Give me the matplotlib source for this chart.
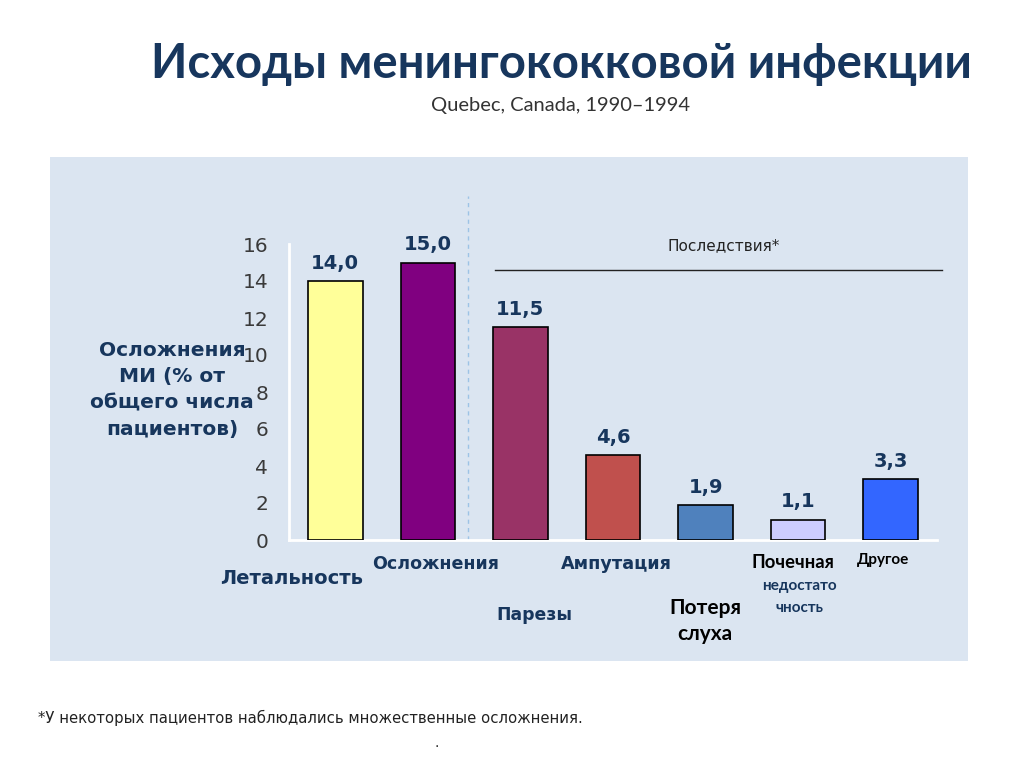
import matplotlib.pyplot as plt
from matplotlib.patches import Rectangle

categories = ['Летальность', 'Осложнения', 'Парезы', 'Ампутация', 'Потеря слуха',
              'Почечная недостаточность', 'Другое']
values = [14.0, 15.0, 11.5, 4.6, 1.9, 1.1, 3.3]
value_labels = ['14,0', '15,0', '11,5', '4,6', '1,9', '1,1', '3,3']
yticks = [0, 2, 4, 6, 8, 10, 12, 14, 16]

colors = ['#ffff99', '#800080', '#993366', '#c0504d', '#4f81bd', '#ccccff', '#3366ff']
navy = '#17365d'
panel = '#dbe5f1'

W, H = 1024, 767
fig = plt.figure(figsize=(W / 100, H / 100), dpi=100)
fig.patch.set_facecolor('white')


def px(x, y):
    return x / W, 1 - y / H


# light blue panel behind the chart
fig.patches.append(Rectangle(px(50, 661), 918 / W, 504 / H, transform=fig.transFigure,
                             facecolor=panel, edgecolor='none', zorder=-1))

ax = fig.add_axes([289 / W, 1 - 540 / H, 648 / W, 296 / H])
ax.set_facecolor('none')
x = list(range(len(values)))
ax.bar(x, values, width=0.59, color=colors, edgecolor='black', linewidth=1.2, zorder=3)
ax.set_xlim(-0.5, 6.5)
ax.set_ylim(0, 16)
ax.set_yticks(yticks)
ax.set_yticklabels([str(t) for t in yticks], fontsize=14.5, color='#3a3a3a')
ax.tick_params(axis='y', length=0, pad=15)
ax.set_xticks([])
for s in ['top', 'right']:
    ax.spines[s].set_visible(False)
for s in ['left', 'bottom']:
    ax.spines[s].set_color('white')
    ax.spines[s].set_linewidth(2)

for xi, v, lab in zip(x, values, value_labels):
    ax.text(xi, v + 0.45, lab, ha='center', va='bottom', fontsize=14,
            fontweight='bold', color=navy)

# separator and "Последствия*" bracket
ax.plot([1.43, 1.43], [0, 18.6], ls=(0, (3, 3)), color='#9dc3e6', lw=1, clip_on=False)
ax.plot([1.72, 6.55], [14.6, 14.6], color='#222222', lw=1, clip_on=False)
ax.text(4.2, 15.9, 'Последствия*', ha='center', va='center', fontsize=11,
        color='#222222', clip_on=False)

# titles
fig.text(*px(561, 64), 'Исходы менингококковой инфекции', ha='center', va='center',
         fontsize=34, fontweight='bold', color=navy, family='Lato')
fig.text(*px(561, 106), 'Quebec, Canada, 1990–1994', ha='center', va='center',
         fontsize=14.5, color='#333333', family='Lato')

# y label
fig.text(*px(172, 390), 'Осложнения\nМИ (% от\nобщего числа\nпациентов)', ha='center',
         va='center', fontsize=14.5, fontweight='bold', color=navy, linespacing=1.5)

# category labels
fig.text(*px(292, 578), 'Летальность', ha='center', va='center', fontsize=14,
         fontweight='bold', color=navy)
fig.text(*px(436, 564), 'Осложнения', ha='center', va='center', fontsize=12.6,
         fontweight='bold', color=navy)
fig.text(*px(534, 615), 'Парезы', ha='center', va='center', fontsize=12.4,
         fontweight='bold', color=navy)
fig.text(*px(616, 564), 'Ампутация', ha='center', va='center', fontsize=12.7,
         fontweight='bold', color=navy)
fig.text(*px(705, 621), 'Потеря\nслуха', ha='center', va='center', fontsize=15,
         fontweight='bold', color='black', family='Lato', linespacing=1.35)
fig.text(*px(793, 562), 'Почечная', ha='center', va='center', fontsize=13.2,
         fontweight='bold', color='black', family='Lato')
fig.text(*px(799, 597), 'недостато\nчность', ha='center', va='center', fontsize=11,
         fontweight='bold', color=navy, family='Lato', linespacing=1.75)
fig.text(*px(883, 560), 'Другое', ha='center', va='center', fontsize=11,
         fontweight='bold', color='black', family='Lato')

# footnote
fig.text(*px(38, 718), '*У некоторых пациентов наблюдались множественные осложнения.',
         ha='left', va='center', fontsize=10.7, color='#222222')
fig.text(*px(437, 743), '.', ha='center', va='center', fontsize=10, color='#222222')

fig.savefig('out.png', dpi=100)
